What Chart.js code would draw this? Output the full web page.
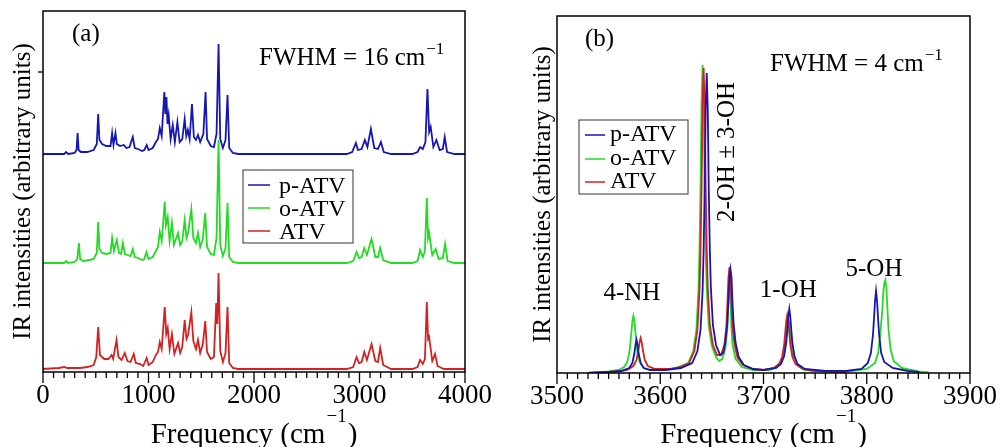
<!DOCTYPE html>
<html>
<head>
<meta charset="utf-8">
<script src="https://cdn.jsdelivr.net/npm/chart.js@4.4.1/dist/chart.umd.min.js"></script>
<style>
    body { margin: 0; background: #fff; }
    #wrapA { position: absolute; left: 0; top: 0; width: 500px; height: 447px; }
    #wrapB { position: absolute; left: 500px; top: 0; width: 505px; height: 447px; }
</style>
</head>
<body>
<div id="wrapA"><canvas id="chartA" width="500" height="447"></canvas></div>
<div id="wrapB"><canvas id="chartB" width="505" height="447"></canvas></div>
<script>
// series names (legend order)
const seriesNames = ['p-ATV', 'o-ATV', 'ATV'];
const seriesColors = ['#1616b4', '#22dc22', '#d42222'];

// x tick labels
const ticksA = [0, 1000, 2000, 3000, 4000];
const ticksB = [3500, 3600, 3700, 3800, 3900];

// (a) FWHM = 16 cm-1, [frequency, intensity]
const pAtvA = [[0,0],[200,0],[217,2],[240,0],[300,1],[318,4],[328,21],[338,4],[360,2],[420,2],[480,4],[510,10],[523,40],[535,14],[560,10],[600,8],[640,8],[655,21],[668,9],[687,21],[700,10],[730,8],[766,9],[790,6],[820,7],[851,17],[870,6],[900,5],[940,3],[960,4],[983,9],[1000,4],[1040,6],[1070,12],[1090,15],[1107,26],[1125,18],[1150,62],[1160,40],[1170,57],[1180,30],[1191,39],[1210,15],[1230,29],[1250,12],[1274,32],[1295,12],[1320,15],[1343,35],[1358,18],[1373,24],[1390,15],[1412,50],[1430,17],[1450,14],[1469,19],[1490,12],[1520,20],[1541,62],[1555,15],[1590,8],[1620,7],[1645,20],[1664,110],[1680,15],[1705,6],[1730,14],[1749,59],[1765,6],[1800,1],[1850,0],[2880,0],[2930,2],[2966,11],[2985,4],[3020,5],[3051,14],[3075,7],[3108,25],[3140,6],[3175,5],[3203,12],[3230,2],[3300,0],[3500,0],[3550,2],[3574,7],[3600,5],[3625,12],[3644,65],[3660,22],[3675,27],[3700,7],[3729,14],[3760,4],[3790,5],[3808,17],[3830,2],[3900,0],[4000,0]];
const oAtvA = [[0,0],[200,0],[217,2],[240,0],[300,1],[325,4],[340,20],[352,4],[380,2],[440,3],[480,4],[510,10],[523,41],[535,14],[560,10],[600,9],[640,10],[655,25],[672,12],[700,23],[720,10],[740,9],[757,20],[775,9],[800,8],[830,7],[851,14],[870,6],[900,5],[940,3],[960,4],[980,11],[1000,4],[1040,6],[1070,12],[1090,16],[1107,31],[1125,22],[1154,61],[1165,38],[1182,46],[1200,22],[1222,40],[1240,18],[1280,30],[1300,18],[1320,22],[1343,43],[1360,25],[1375,30],[1406,54],[1425,25],[1450,20],[1469,30],[1490,16],[1515,24],[1538,50],[1555,16],[1590,9],[1620,8],[1645,25],[1664,123],[1680,18],[1705,7],[1730,15],[1749,60],[1765,6],[1800,1],[1850,0],[2880,0],[2940,2],[2972,11],[2995,5],[3020,6],[3045,15],[3070,8],[3114,24],[3150,6],[3175,6],[3196,15],[3225,3],[3300,0],[3500,0],[3550,2],[3574,13],[3600,6],[3620,12],[3638,65],[3650,25],[3660,30],[3690,8],[3722,14],[3750,4],[3790,5],[3811,19],[3835,2],[3900,0],[4000,0]];
const atvA = [[0,0],[150,1],[200,2],[230,1],[300,1],[350,1],[420,2],[480,4],[505,12],[523,42],[540,14],[580,10],[620,10],[650,14],[665,10],[697,29],[715,12],[745,9],[775,16],[800,8],[830,7],[860,15],[880,6],[920,5],[950,3],[983,11],[1000,4],[1040,7],[1070,14],[1090,17],[1107,27],[1125,20],[1154,62],[1168,35],[1182,41],[1200,20],[1222,35],[1245,15],[1280,26],[1300,16],[1320,22],[1343,49],[1360,30],[1375,34],[1406,57],[1425,28],[1450,20],[1469,29],[1490,16],[1515,25],[1538,48],[1555,17],[1590,10],[1620,12],[1642,66],[1652,45],[1664,96],[1680,18],[1705,7],[1730,16],[1749,62],[1765,6],[1800,1],[1850,0],[2880,0],[2940,2],[2972,12],[2995,6],[3020,7],[3045,17],[3070,9],[3114,25],[3150,8],[3175,7],[3196,21],[3225,4],[3300,0],[3500,0],[3550,2],[3574,9],[3600,5],[3620,10],[3638,67],[3650,30],[3660,32],[3690,8],[3716,15],[3740,3],[3800,0],[4000,0]];
// vertical offsets of the stacked spectra in (a)
const offsetsA = [215, 106, 0];

// (b) FWHM = 4 cm-1, O-H / N-H stretch region
const pAtvB = [[3530,0],[3550,1],[3562,2],[3570,5],[3573,10],[3575,20],[3576,28],[3577,33],[3578,28],[3579,20],[3581,10],[3584,5],[3590,3],[3605,3],[3620,5],[3631,10],[3636,22],[3639,43],[3641,82],[3642,122],[3643,182],[3644,265],[3645,300],[3646,265],[3647,182],[3648,124],[3649,86],[3651,48],[3654,28],[3658,18],[3661,20],[3663,30],[3665,50],[3666,72],[3667,96],[3668,104],[3669,96],[3670,70],[3671,50],[3673,30],[3676,16],[3681,8],[3690,4],[3700,3],[3712,5],[3717,9],[3720,17],[3722,30],[3723,42],[3724,56],[3725,64],[3726,56],[3727,42],[3728,30],[3730,17],[3733,9],[3740,4],[3760,2],[3780,2],[3795,4],[3801,10],[3804,20],[3806,38],[3807,54],[3808,72],[3809,82],[3810,72],[3811,54],[3812,38],[3814,20],[3817,11],[3825,5],[3840,2],[3851,1]];
const oAtvB = [[3530,0],[3550,1.5],[3560,3],[3565,6],[3568,11],[3570,20],[3571,29],[3572,40],[3573,52],[3574,57],[3575,52],[3576,40],[3577,29],[3578,20],[3580,11],[3584,5],[3592,3],[3605,3],[3615,5],[3627,10],[3632,22],[3635,43],[3637,83],[3638,123],[3639,185],[3640,271],[3641,308],[3642,271],[3643,185],[3644,123],[3645,85],[3647,47],[3650,27],[3654,16],[3657,12],[3660,14],[3663,24],[3665,45],[3666,72],[3667,96],[3668,72],[3669,45],[3670,28],[3673,14],[3679,6],[3690,3],[3705,3],[3712,5],[3716,9],[3719,16],[3721,28],[3722,38],[3723,50],[3724,55],[3725,50],[3726,38],[3727,28],[3729,15],[3732,8],[3740,3],[3760,1.5],[3785,2],[3800,4],[3808,10],[3811,20],[3813,38],[3815,62],[3816,80],[3817,90],[3818,93],[3819,85],[3820,65],[3821,45],[3823,24],[3826,12],[3834,5],[3850,1.5],[3860,0.5]];
const atvB = [[3530,0],[3550,1],[3562,2],[3568,3],[3574,7],[3577,13],[3579,24],[3580,31],[3581,35],[3582,31],[3583,24],[3585,13],[3588,7],[3595,4],[3610,4],[3620,6],[3628,10],[3633,22],[3636,43],[3638,83],[3639,123],[3640,184],[3641,268],[3642,305],[3643,268],[3644,185],[3645,125],[3646,86],[3648,48],[3651,28],[3655,18],[3659,18],[3662,28],[3664,46],[3665,68],[3666,95],[3667,106],[3668,95],[3669,68],[3670,46],[3672,28],[3675,15],[3680,8],[3690,4],[3700,3],[3710,5],[3715,9],[3718,16],[3720,28],[3721,40],[3722,52],[3723,58],[3724,52],[3725,40],[3726,28],[3728,16],[3731,9],[3738,4],[3750,2],[3780,1]];

const FONT = '"Liberation Serif", "Times New Roman", serif';

function toPoints(pairs, offset) {
    return pairs.map(p => ({ x: p[0], y: p[1] + offset }));
}

function text(ctx, str, x, y, size, align) {
    ctx.font = size + 'px ' + FONT;
    ctx.textAlign = align || 'left';
    ctx.textBaseline = 'alphabetic';
    ctx.fillStyle = '#000';
    ctx.fillText(str, x, y);
}

// label with a raised "-1" exponent
function supLabel(ctx, main, sup, tail, x, y, size, supSize, supRise, centered) {
    ctx.font = size + 'px ' + FONT;
    const w1 = ctx.measureText(main).width;
    const w3 = ctx.measureText(tail).width;
    ctx.font = supSize + 'px ' + FONT;
    const w2 = ctx.measureText(sup).width;
    let x0 = centered ? x - (w1 + w2 + w3 + 2) / 2 : x;
    text(ctx, main, x0, y, size);
    text(ctx, sup, x0 + w1 + 1, y - supRise, supSize);
    if (tail) text(ctx, tail, x0 + w1 + w2 + 2, y, size);
}

function drawFrame(ctx, area) {
    ctx.save();
    ctx.strokeStyle = '#000';
    ctx.lineWidth = 1.5;
    ctx.strokeRect(area.left, area.top, area.right - area.left, area.bottom - area.top);
    ctx.restore();
}

function drawXTicks(ctx, chart, from, to, minor, major) {
    const xs = chart.scales.x;
    const bottom = chart.chartArea.bottom;
    ctx.save();
    ctx.strokeStyle = '#000';
    ctx.lineWidth = 1.3;
    for (let v = from; v <= to; v += minor) {
        const px = xs.getPixelForValue(v);
        const len = (v % major === 0) ? 11 : 6;
        ctx.beginPath();
        ctx.moveTo(px, bottom);
        ctx.lineTo(px, bottom + len);
        ctx.stroke();
    }
    ctx.restore();
}

function drawLegend(ctx, box, rows, size) {
    ctx.save();
    ctx.strokeStyle = '#333';
    ctx.lineWidth = 1;
    ctx.strokeRect(box.x, box.y, box.w, box.h);
    rows.forEach((r, i) => {
        ctx.strokeStyle = seriesColors[i];
        ctx.lineWidth = 1.5;
        ctx.beginPath();
        ctx.moveTo(box.lx0, r - box.lineUp);
        ctx.lineTo(box.lx1, r - box.lineUp);
        ctx.stroke();
        text(ctx, seriesNames[i], box.tx, r, size);
    });
    ctx.restore();
}

function makeDatasets(a, b, c, offsets, orders) {
    return [a, b, c].map((d, i) => ({
        label: seriesNames[i],
        data: toPoints(d, offsets[i]),
        borderColor: seriesColors[i],
        borderWidth: 1.8,
        pointRadius: 0,
        tension: 0,
        fill: false,
        order: orders[i]
    }));
}

const tickFont = { family: FONT, size: 27 };

// Panel (a)
const decorA = {
    id: 'decorA',
    afterDraw(chart) {
        const ctx = chart.ctx;
        const area = chart.chartArea;
        drawFrame(ctx, area);
        drawXTicks(ctx, chart, 0, 4000, 100, 1000);
        // single y tick
        const py = chart.scales.y.getPixelForValue(297);
        ctx.save();
        ctx.strokeStyle = '#000';
        ctx.lineWidth = 1.3;
        ctx.beginPath();
        ctx.moveTo(area.left - 5, py);
        ctx.lineTo(area.left, py);
        ctx.stroke();
        ctx.restore();

        text(ctx, '(a)', 72, 41, 25);
        supLabel(ctx, 'FWHM = 16 cm', '\u22121', '', 259, 65, 25, 17, 11, false);
        drawLegend(ctx, { x: 243, y: 170, w: 110, h: 73, lx0: 248, lx1: 270, tx: 279, lineUp: 8 },
            [193, 216, 239], 24);

        supLabel(ctx, 'Frequency (cm', '\u22121', ')', (area.left + area.right) / 2, 443, 29, 19, 21, true);
        ctx.save();
        ctx.translate(23, (area.top + area.bottom) / 2);
        ctx.rotate(-Math.PI / 2);
        ctx.font = '25px ' + FONT;
        ctx.textAlign = 'center';
        ctx.textBaseline = 'middle';
        ctx.fillStyle = '#000';
        ctx.fillText('IR intensities (arbitrary units)', 0, 0);
        ctx.restore();
    }
};

new Chart(document.getElementById('chartA').getContext('2d'), {
    type: 'line',
    data: { datasets: makeDatasets(pAtvA, oAtvA, atvA, offsetsA, [1, 0, 2]) },
    options: {
        responsive: false,
        animation: false,
        layout: { padding: { top: 11, right: 34, left: 0, bottom: 0 } },
        scales: {
            x: {
                type: 'linear',
                min: 0,
                max: 4000,
                afterBuildTicks: s => { s.ticks = ticksA.map(v => ({ value: v })); },
                afterFit: s => { s.height = 75; },
                ticks: { color: '#000', font: tickFont, padding: 8, maxRotation: 0, autoSkip: false,
                    callback: v => String(v) },
                grid: { display: false, drawTicks: false },
                border: { display: false }
            },
            y: {
                min: -3,
                max: 358,
                afterFit: s => { s.width = 43; },
                ticks: { display: false },
                grid: { display: false, drawTicks: false },
                border: { display: false }
            }
        },
        plugins: { legend: { display: false }, tooltip: { enabled: false } }
    },
    plugins: [decorA]
});

// Panel (b)
const decorB = {
    id: 'decorB',
    afterDraw(chart) {
        const ctx = chart.ctx;
        const area = chart.chartArea;
        const xs = chart.scales.x;
        const ys = chart.scales.y;
        drawFrame(ctx, area);
        drawXTicks(ctx, chart, 3500, 3900, 10, 100);

        text(ctx, '(b)', 85, 46, 25);
        supLabel(ctx, 'FWHM = 4 cm', '\u22121', '', 270, 71, 25, 17, 11, false);
        drawLegend(ctx, { x: 79, y: 120, w: 109, h: 74, lx0: 85, lx1: 105, tx: 110, lineUp: 6 },
            [141, 165, 188], 24);

        // peak assignments
        ctx.font = '25px ' + FONT;
        ctx.textAlign = 'center';
        ctx.textBaseline = 'middle';
        ctx.fillStyle = '#000';
        ctx.fillText('4-NH', xs.getPixelForValue(3572.5), ys.getPixelForValue(80));
        ctx.fillText('1-OH', xs.getPixelForValue(3724), ys.getPixelForValue(83));
        ctx.fillText('5-OH', xs.getPixelForValue(3807), ys.getPixelForValue(104));
        ctx.save();
        ctx.translate(xs.getPixelForValue(3665.5), ys.getPixelForValue(221));
        ctx.rotate(-Math.PI / 2);
        ctx.fillText('2-OH \u00b1 3-OH', 0, 0);
        ctx.restore();

        supLabel(ctx, 'Frequency (cm', '\u22121', ')', (area.left + area.right) / 2, 443, 29, 19, 21, true);
        ctx.save();
        ctx.translate(43, (area.top + area.bottom) / 2);
        ctx.rotate(-Math.PI / 2);
        ctx.font = '25px ' + FONT;
        ctx.textAlign = 'center';
        ctx.textBaseline = 'middle';
        ctx.fillStyle = '#000';
        ctx.fillText('IR intensities (arbitrary units)', 0, 0);
        ctx.restore();
    }
};

new Chart(document.getElementById('chartB').getContext('2d'), {
    type: 'line',
    data: { datasets: makeDatasets(pAtvB, oAtvB, atvB, [0, 0, 0], [0, 2, 1]) },
    options: {
        responsive: false,
        animation: false,
        layout: { padding: { top: 16, right: 32, left: 0, bottom: 0 } },
        scales: {
            x: {
                type: 'linear',
                min: 3500,
                max: 3900,
                afterBuildTicks: s => { s.ticks = ticksB.map(v => ({ value: v })); },
                afterFit: s => { s.height = 74; },
                ticks: { color: '#000', font: tickFont, padding: 8, maxRotation: 0, autoSkip: false,
                    callback: v => String(v) },
                grid: { display: false, drawTicks: false },
                border: { display: false }
            },
            y: {
                min: 0,
                max: 357,
                afterFit: s => { s.width = 57; },
                ticks: { display: false },
                grid: { display: false, drawTicks: false },
                border: { display: false }
            }
        },
        plugins: { legend: { display: false }, tooltip: { enabled: false } }
    },
    plugins: [decorB]
});
</script>
</body>
</html>
